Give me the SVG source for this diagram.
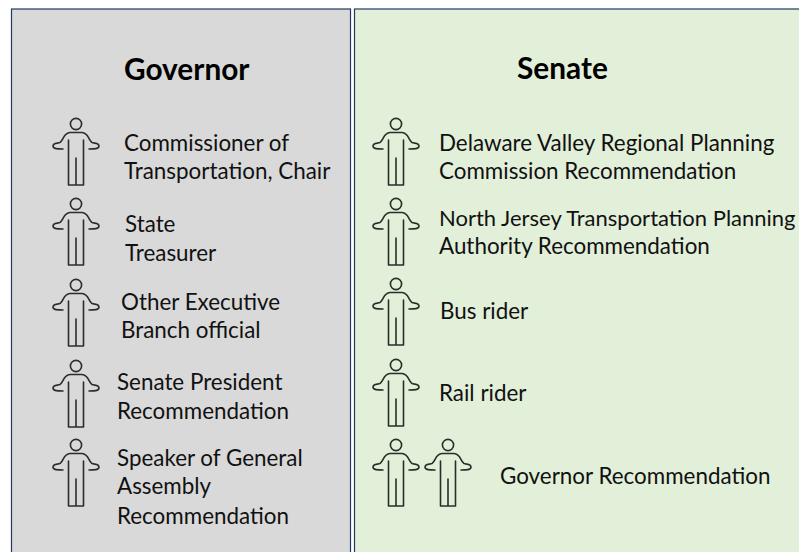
<svg xmlns="http://www.w3.org/2000/svg" width="799" height="552" viewBox="0 0 799 552">
<style>
text{font-family:"Lato","Liberation Sans",sans-serif;font-size:22.400px;fill:#111}
.h{font-size:29.800px;font-weight:700;fill:#000}
text.n{font-size:22px}
.p{stroke:#203864;stroke-width:1.200}
.i{fill:none;stroke:#2a2e2a;stroke-width:1.600;stroke-linecap:round;stroke-linejoin:round}
</style>
<defs>
<g id="person" class="i">
<circle cx="0" cy="0" r="5.600"/>
<path d="M-7.500 16V61H7.500V16M0 34V61"/>
<path d="M-13 25C-18 25 -23 25 -23 22C-23 19 -19 19.500 -16 18.500C-12 16 -13 9 -6 8.500H6C13 9 12 16 16 18.500C19 19.500 23 19 23 22C23 25 18 25 13 25"/>
</g>
</defs>
<rect width="799" height="552" fill="#fff"/>
<g id="governor-panel"><rect class="p" x="11.500" y="9" width="339" height="550" fill="#d9d9d9"/><text class="h" x="124" y="80">Governor</text></g>
<g id="senate-panel"><rect class="p" x="354.500" y="9" width="450" height="550" fill="#e2efd9"/><text class="h" x="517" y="79">Senate</text></g>
<g id="connectors"/>
<g id="g1"><use href="#person" x="76" y="124"/><text x="124" y="151">Commissioner of</text><text x="124" y="179">Transportation, Chair</text></g>
<g id="g2"><use href="#person" x="76" y="204"/><text x="125" y="232">State</text><text x="125" y="261">Treasurer</text></g>
<g id="g3"><use href="#person" x="76" y="285"/><text x="121" y="310">Other Executive</text><text x="121" y="338">Branch official</text></g>
<g id="g4"><use href="#person" x="76" y="366"/><text x="117" y="390">Senate President</text><text x="117" y="419">Recommendation</text></g>
<g id="g5"><use href="#person" x="76" y="445"/><text x="117" y="466">Speaker of General</text><text x="117" y="494">Assembly</text><text x="117" y="524">Recommendation</text></g>
<g id="s1"><use href="#person" x="396" y="124"/><text x="439" y="151">Delaware Valley Regional Planning</text><text x="439" y="179">Commission Recommendation</text></g>
<g id="s2"><use href="#person" x="396" y="204"/><text class="n" x="439" y="226">North Jersey Transportation Planning</text><text x="439" y="254">Authority Recommendation</text></g>
<g id="s3"><use href="#person" x="396" y="284"/><text x="440" y="319">Bus rider</text></g>
<g id="s4"><use href="#person" x="396" y="365"/><text x="439" y="401">Rail rider</text></g>
<g id="s5"><use href="#person" x="396" y="445"/></g>
<g id="s6"><use href="#person" x="448" y="445"/><text x="500" y="484">Governor Recommendation</text></g>
</svg>
